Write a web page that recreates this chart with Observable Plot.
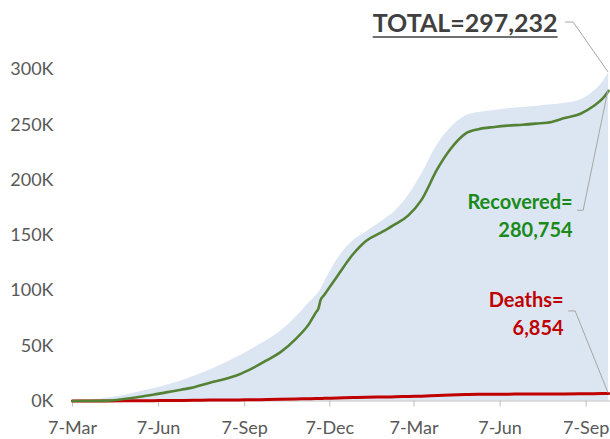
<!DOCTYPE html>
<html><head><meta charset="utf-8">
<script src="https://cdn.jsdelivr.net/npm/d3@7"></script>
<script src="https://cdn.jsdelivr.net/npm/@observablehq/plot@0.6"></script>
<style>
html,body{margin:0;padding:0;background:#fff;}
#chart{width:610px;height:439px;overflow:hidden;}
svg{overflow:visible;}
</style></head><body><div id="chart"></div>
<script>
// ---- data ----
const dates = ["2020-03-07","2020-04-01","2020-04-15","2020-05-01","2020-05-15","2020-06-01","2020-06-15","2020-07-01","2020-07-15","2020-08-01","2020-08-15","2020-09-01","2020-09-15","2020-10-01","2020-10-15","2020-11-01","2020-11-15","2020-11-22","2020-11-25","2020-11-27","2020-12-01","2020-12-15","2021-01-01","2021-01-15","2021-02-01","2021-02-15","2021-03-01","2021-03-15","2021-04-01","2021-04-15","2021-05-01","2021-05-15","2021-06-01","2021-06-15","2021-07-01","2021-07-15","2021-08-01","2021-08-15","2021-09-01","2021-09-15","2021-09-25","2021-10-01"];
const total = [0,1000,3000,5000,7800,11000,14000,18000,22500,28000,33500,40500,47000,55000,63000,76000,89000,95000,98000,100500,107000,128000,145000,153000,163000,172000,186000,205000,232000,247000,258000,261000,263000,264500,265500,266500,268000,269500,272500,280000,289000,297232];
const recovered = [0,100,300,1800,3400,5600,7800,10200,12500,16500,19500,24000,29500,37000,44000,56500,70000,80000,84000,91000,96000,113000,133000,145000,153000,160000,168000,182000,210000,228000,242000,246000,248000,249200,250000,251000,252500,256000,260000,267000,274000,280754];
const deaths = [0,5,40,120,210,300,400,550,650,800,900,1000,1100,1300,1500,1800,2100,2200,2250,2300,2400,2700,3100,3350,3600,3800,4100,4400,5000,5400,5800,6000,6150,6200,6250,6300,6350,6400,6500,6620,6760,6854];
const xTickDates = ["2020-03-07","2020-06-07","2020-09-07","2020-12-07","2021-03-07","2021-06-07","2021-09-07"];
const yTicks = [0,50000,100000,150000,200000,250000,300000];
const xDomain = ["2020-03-07","2021-10-03"];

const rows = dates.map((d,i)=>({date:new Date(d), total:total[i], recovered:recovered[i], deaths:deaths[i]}));
const last = rows[rows.length-1];
const fmt = d3.format(",");
const FONT = "Lato, 'Open Sans', sans-serif";

const plot = Plot.plot({
  width: 610, height: 439,
  marginLeft: 72, marginRight: 0, marginTop: 69, marginBottom: 38.5,
  style: {fontFamily: FONT, fontSize: "18px", color: "#595959", background: "#fff", overflow: "visible"},
  x: {type: "utc", domain: xDomain.map(d=>new Date(d))},
  y: {domain: [0, 300000]},
  marks: [
    Plot.areaY(rows, {x:"date", y:"total", fill:"#dce6f2", curve:"monotone-x"}),
    Plot.ruleY([0], {stroke:"#bfbfbf", strokeWidth:1}),
    Plot.axisX({ticks: xTickDates.map(d=>new Date(d)), tickFormat: "%-d-%b", tickSize: 6, tickPadding: 14, stroke:"#bfbfbf", fill:"#595959", label:null, fontSize:18}),
    Plot.axisY({ticks: yTicks, tickFormat: d => (d/1000) + "K", tickSize: 0, tickPadding: 19, fill:"#595959", label:null, fontSize:18}),
    Plot.lineY(rows, {x:"date", y:"deaths", stroke:"#c00000", strokeWidth:3, curve:"monotone-x"}),
    Plot.lineY(rows, {x:"date", y:"recovered", stroke:"#548235", strokeWidth:2.6, curve:"monotone-x"}),
    Plot.text([last], {x:"date", y:"total", text: d => "TOTAL=" + fmt(d.total), dx:-51, dy:-48.7, textAnchor:"end", fontSize:25, fontWeight:"bold", fill:"#404040", fontFamily: FONT}),
    Plot.text([last], {x:"date", y:"recovered", text: d => "Recovered=\n" + fmt(d.recovered), dx:-36, dy:123, textAnchor:"end", fontSize:20, fontWeight:"bold", fill:"#1a8a1a", lineHeight:1.425, fontFamily: FONT}),
    Plot.text([last], {x:"date", y:"deaths", text: d => "Deaths=\n" + fmt(d.deaths), dx:-45, dy:-81.4, textAnchor:"end", fontSize:20, fontWeight:"bold", fill:"#c00000", lineHeight:1.4, fontFamily: FONT})
  ]
});
document.getElementById("chart").appendChild(plot);

// leader lines from each label to the series' last point
const sx = plot.scale("x"), sy = plot.scale("y");
const svg = d3.select(plot);
const lx = sx.apply(last.date);
const leaders = [
  {key:"total", pts:[[-43,-50],[-35,-50],[0,0]]},
  {key:"recovered", pts:[[-31,120],[-25,120],[0,-1]]},
  {key:"deaths", pts:[[-40,-82],[-33,-82],[0,0]]}
];
for (const L of leaders) {
  const ly = sy.apply(last[L.key]);
  svg.append("path")
    .attr("d", d3.line()(L.pts.map(([dx,dy]) => [lx+dx, ly+dy])))
    .attr("fill","none").attr("stroke","#a6a6a6").attr("stroke-width",1);
}
// underline for the TOTAL label (measured in page space)
const svgRect = plot.getBoundingClientRect();
svg.selectAll("text").each(function(){
  if (this.textContent.startsWith("TOTAL")) {
    const r = this.getBoundingClientRect();
    const x0 = r.left - svgRect.left, x1 = r.right - svgRect.left;
    const base = r.top - svgRect.top + 0.987*25;
    svg.append("line").attr("x1", x0).attr("x2", x1)
      .attr("y1", base+5.5).attr("y2", base+5.5)
      .attr("stroke","#404040").attr("stroke-width",1.6);
  }
});
</script>
</body></html>
